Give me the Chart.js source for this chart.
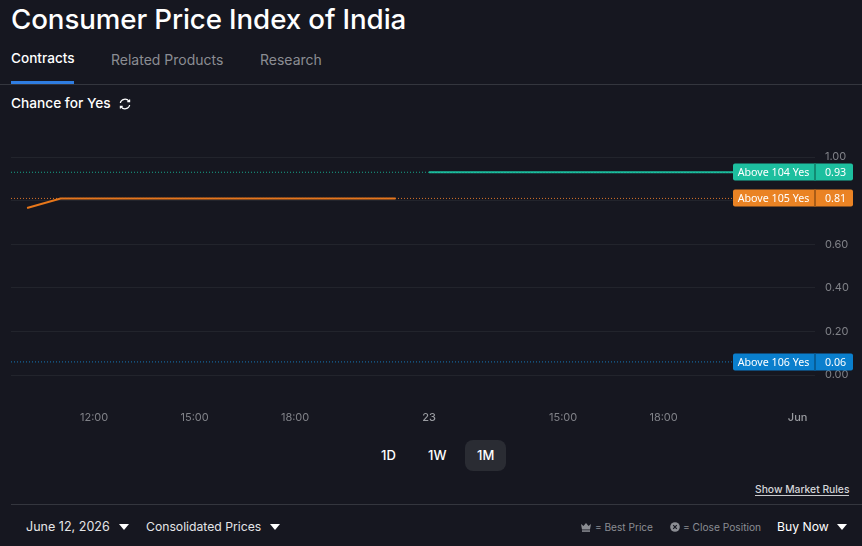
<!DOCTYPE html>
<html>
<head>
<meta charset="utf-8">
<title>Consumer Price Index of India</title>
<script src="https://cdn.jsdelivr.net/npm/chart.js@4"></script>
<style>
  html, body { margin: 0; padding: 0; background: #161720; overflow: hidden; }
  body { width: 862px; height: 546px; position: relative; font-family: Inter, sans-serif; color: #fff; }
  .t { position: absolute; white-space: nowrap; line-height: 20px; height: 20px; }
  .muted { color: #8b8d93; }
  .rule { position: absolute; height: 1px; background: #34363e; }
  .caret { position: absolute; width: 0; height: 0; border-left: 5.5px solid transparent; border-right: 5.5px solid transparent; border-top: 6px solid #fff; }
  #chart-wrap { position: absolute; left: 0; top: 125px; width: 862px; height: 305px; }
  #range-active { position: absolute; left: 465px; top: 440px; width: 41px; height: 31px; border-radius: 8px; background: #2a2c33; }
  svg { position: absolute; }
</style>
</head>
<body>
  <div class="t" style="left:11px;top:9px;font-size:27.7px;font-weight:500;letter-spacing:-0.1px">Consumer Price Index of India</div>

  <div class="t" style="left:11px;top:48px;font-size:13.6px;font-weight:500">Contracts</div>
  <div class="t muted" style="left:111px;top:50px;font-size:14px">Related Products</div>
  <div class="t muted" style="left:260px;top:50px;font-size:14px">Research</div>
  <div style="position:absolute;left:11px;top:81px;width:63px;height:3px;background:#2f7de1"></div>
  <div class="rule" style="left:0;top:84px;width:862px"></div>

  <div class="t" style="left:11px;top:93px;font-size:13.7px;font-weight:500">Chance for Yes</div>
  <svg style="left:119px;top:98px" width="12" height="12" viewBox="0 0 12 12" fill="none" stroke="#fff" stroke-width="1.2">
    <path d="M1.3 5a4.8 4.8 0 0 1 8.6-1.8"/><path d="M10.7 7a4.8 4.8 0 0 1-8.6 1.8"/>
    <path d="M10.6 1.4v2.3H8.3"/><path d="M1.4 10.6V8.3h2.3"/>
  </svg>

  <div id="chart-wrap"><canvas id="cpi-chart"></canvas></div>

  <div id="range-active"></div>
  <div class="t" style="left:381px;top:445px;font-size:13px;font-weight:500">1D</div>
  <div class="t" style="left:428px;top:445px;font-size:13px;font-weight:500">1W</div>
  <div class="t" style="left:477px;top:445px;font-size:13px;font-weight:500">1M</div>

  <div class="t" style="left:755px;top:479px;font-size:10.3px;color:#d5d6d9;font-weight:500">Show Market Rules</div>
  <div style="position:absolute;left:755px;top:495px;width:94px;height:1px;background:#c8c9cc"></div>
  <div class="rule" style="left:11px;top:504px;width:851px"></div>

  <div class="t" style="left:26px;top:517px;font-size:12.55px;color:#e4e5e7">June 12, 2026</div>
  <div class="caret" style="left:119px;top:524px"></div>
  <div class="t" style="left:146px;top:517px;font-size:12.2px;color:#e4e5e7">Consolidated Prices</div>
  <div class="caret" style="left:270px;top:524px"></div>

  <svg style="left:581px;top:523px" width="10" height="9" viewBox="0 0 10 9" fill="#8b8d93">
    <path d="M0 1l2.5 2L5 0l2.5 3L10 1 9 6.5H1z"/><rect x="1" y="7.3" width="8" height="1.5"/>
  </svg>
  <div class="t muted" style="left:595px;top:517px;font-size:10.1px">= Best Price</div>
  <svg style="left:670px;top:522px" width="10" height="10" viewBox="0 0 10 10">
    <circle cx="5" cy="5" r="4.8" fill="#8b8d93"/>
    <path d="M3.2 3.2l3.6 3.6M6.8 3.2l-3.6 3.6" stroke="#161720" stroke-width="1.2"/>
  </svg>
  <div class="t muted" style="left:683px;top:517px;font-size:10.2px">= Close Position</div>
  <div class="t" style="left:777px;top:517px;font-size:12.2px">Buy Now</div>
  <div class="caret" style="left:837px;top:524px"></div>

<script>
// x runs in trading hours, so the overnight gaps are already squeezed out
const tickHours = [12, 15, 18, 22, 26, 29, 33];
const tickLabels = ['12:00', '15:00', '18:00', '23', '15:00', '18:00', 'Jun'];
const majorLabels = ['23', 'Jun'];
const priceTicks = [0, 0.2, 0.4, 0.6, 0.8, 1];

const hourMin = 9.52;
const hourMax = 33.52;

const above105Hours = [10, 11, 21];
const above105Values = [0.766, 0.81, 0.81];
const above104Hours = [22, 33.52];
const above104Values = [0.93, 0.93];

const contractNames = ['Above 104 Yes', 'Above 105 Yes', 'Above 106 Yes'];
const lastPrices = [0.93, 0.81, 0.06];
const contractColors = ['#1dbf9f', '#ea8324', '#0a7fcd'];
const dividerColors = ['#128a72', '#a85c17', '#075e98'];
const guideColors = ['#17a78b', '#d9742a', '#1478b8'];

function points(xs, ys) {
  return xs.map((x, i) => ({ x, y: ys[i] }));
}

// dotted guide at each contract's last price
const guideSets = lastPrices.map((price, i) => ({
  data: points([hourMin, hourMax], [price, price]),
  borderColor: guideColors[i],
  borderWidth: 1,
  borderDash: [1, 2],
  pointRadius: 0
}));

// price tags on the right edge, over the axis
const priceTags = {
  id: 'priceTags',
  afterDraw(chart) {
    const { ctx, scales: { y } } = chart;
    ctx.save();
    ctx.font = '10.7px "Noto Sans"';
    ctx.textBaseline = 'middle';
    ctx.textAlign = 'center';
    lastPrices.forEach((price, i) => {
      const py = Math.round(y.getPixelForValue(price));
      ctx.fillStyle = contractColors[i];
      ctx.beginPath();
      ctx.roundRect(733, py - 8.5, 120, 17, 2);
      ctx.fill();
      ctx.fillStyle = dividerColors[i];
      ctx.fillRect(814, py - 8.5, 2, 17);
      ctx.fillStyle = '#fff';
      ctx.fillText(contractNames[i], 773.5, py + 0.5);
      ctx.fillText(price.toFixed(2), 835.5, py + 0.5);
    });
    ctx.restore();
  }
};

new Chart(document.getElementById('cpi-chart'), {
  type: 'line',
  data: {
    datasets: [
      ...guideSets,
      { data: points(above105Hours, above105Values), borderColor: '#e8771a', borderWidth: 2, pointRadius: 0 },
      { data: points(above104Hours, above104Values), borderColor: '#1dbf9f', borderWidth: 2, pointRadius: 0 }
    ]
  },
  options: {
    responsive: true,
    maintainAspectRatio: false,
    animation: false,
    layout: { padding: { left: 11, top: 32, right: 0, bottom: 0 } },
    plugins: { legend: { display: false }, tooltip: { enabled: false } },
    scales: {
      x: {
        type: 'linear',
        min: hourMin,
        max: hourMax,
        afterBuildTicks: axis => { axis.ticks = tickHours.map(value => ({ value })); },
        afterFit: axis => { axis.height = 55; },
        grid: { display: false },
        border: { display: false },
        ticks: {
          autoSkip: false,
          maxRotation: 0,
          padding: 28,
          callback: value => tickLabels[tickHours.indexOf(value)],
          color: ctx => majorLabels.includes(tickLabels[ctx.index]) ? '#9a9ca1' : '#808288',
          font: ctx => ({
            family: 'Inter',
            size: 11,
            weight: majorLabels.includes(tickLabels[ctx.index]) ? '500' : '400'
          })
        }
      },
      y: {
        position: 'right',
        min: 0,
        max: 1,
        afterBuildTicks: axis => { axis.ticks = priceTicks.map(value => ({ value })); },
        afterFit: axis => { axis.width = 47; },
        grid: { color: '#22242c', lineWidth: 1, drawTicks: false },
        border: { display: false },
        ticks: {
          padding: 10,
          color: '#808288',
          font: { family: 'Inter', size: 11 },
          callback: value => value.toFixed(2)
        }
      }
    }
  },
  plugins: [priceTags]
});
</script>
</body>
</html>
